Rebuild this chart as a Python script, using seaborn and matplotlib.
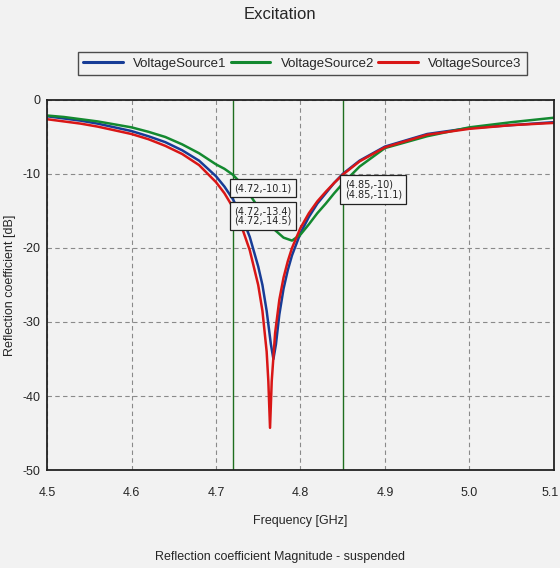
import numpy as np
import pandas as pd
import matplotlib
matplotlib.use("Agg")
import matplotlib.pyplot as plt
import matplotlib.transforms as mtransforms
import seaborn as sns

sns.set_style("whitegrid")
plt.rcParams['font.family'] = ['Liberation Sans', 'DejaVu Sans']
plt.rcParams['axes.unicode_minus'] = False

# frequency [GHz] / reflection coefficient [dB]
f_vs1 = [4.50, 4.52, 4.54, 4.56, 4.58, 4.60, 4.62, 4.64, 4.66, 4.68, 4.70, 4.71,
         4.72, 4.73, 4.74, 4.75, 4.755, 4.76, 4.765, 4.768, 4.771, 4.775, 4.78,
         4.785, 4.79, 4.80, 4.81, 4.82, 4.83, 4.84, 4.85, 4.87, 4.90, 4.95, 5.00,
         5.05, 5.10]
s_vs1 = [-2.2, -2.5, -2.8, -3.2, -3.7, -4.2, -4.9, -5.7, -6.8, -8.2, -10.3, -11.7,
         -13.4, -15.6, -18.5, -22.5, -25.0, -28.5, -33.0, -35.0, -33.0, -29.0, -25.5,
         -23.0, -21.0, -18.0, -15.8, -14.0, -12.6, -11.2, -10.0, -8.2, -6.3, -4.6, -3.8,
         -3.4, -3.0]

f_vs2 = [4.50, 4.52, 4.54, 4.56, 4.58, 4.60, 4.62, 4.64, 4.66, 4.68, 4.70, 4.71,
         4.72, 4.73, 4.74, 4.75, 4.76, 4.77, 4.78, 4.79, 4.80, 4.81, 4.82, 4.83,
         4.84, 4.85, 4.87, 4.90, 4.95, 5.00, 5.05, 5.10]
s_vs2 = [-2.1, -2.3, -2.6, -2.9, -3.3, -3.7, -4.3, -5.0, -6.0, -7.2, -8.7, -9.3,
         -10.1, -11.3, -12.8, -14.5, -16.1, -17.6, -18.6, -19.0, -18.2, -16.8, -15.3, -14.0,
         -12.6, -11.3, -9.0, -6.5, -4.9, -3.7, -3.0, -2.4]

f_vs3 = [4.50, 4.52, 4.54, 4.56, 4.58, 4.60, 4.62, 4.64, 4.66, 4.68, 4.70, 4.71,
         4.72, 4.73, 4.74, 4.75, 4.755, 4.76, 4.762, 4.764, 4.766, 4.77, 4.775, 4.78,
         4.785, 4.79, 4.80, 4.81, 4.82, 4.83, 4.84, 4.85, 4.87, 4.90, 4.95, 5.00,
         5.05, 5.10]
s_vs3 = [-2.6, -2.9, -3.2, -3.6, -4.1, -4.6, -5.3, -6.2, -7.3, -8.8, -11.1, -12.6,
         -14.5, -17.0, -20.3, -25.0, -28.5, -34.0, -38.0, -44.3, -38.0, -31.5, -27.0, -24.0,
         -21.8, -20.0, -17.3, -15.3, -13.7, -12.4, -11.2, -10.1, -8.3, -6.4, -4.7, -3.9,
         -3.4, -3.1]

names = ["VoltageSource1", "VoltageSource2", "VoltageSource3"]
colors = ["#173c96", "#13892f", "#d91616"]

marker_f = [4.72, 4.85]
labels_left = ["(4.72,-10.1)", "(4.72,-13.4)", "(4.72,-14.5)"]
labels_right = ["(4.85,-10)", "(4.85,-11.1)"]

df = pd.concat([
    pd.DataFrame({"freq": f_vs1, "s11": s_vs1, "src": names[0]}),
    pd.DataFrame({"freq": f_vs2, "s11": s_vs2, "src": names[1]}),
    pd.DataFrame({"freq": f_vs3, "s11": s_vs3, "src": names[2]}),
])

bg = "#f2f2f2"
fig = plt.figure(figsize=(5.6, 5.68), dpi=100, facecolor=bg)
ax = fig.add_axes([0.084, 0.1725, 0.905, 0.6515])
ax.set_facecolor(bg)

sns.lineplot(data=df, x="freq", y="s11", hue="src", palette=colors,
             estimator=None, sort=True, linewidth=1.8, ax=ax, legend=False)

for xf in marker_f:
    ax.axvline(xf, color="#1f6e1f", lw=1.0, zorder=1)

ax.set_xlim(4.5, 5.1)
ax.set_ylim(-50, 0)
ax.set_xticks([4.5, 4.6, 4.7, 4.8, 4.9, 5.0, 5.1])
ax.set_xticklabels(["4.5", "4.6", "4.7", "4.8", "4.9", "5.0", "5.1"])
ax.set_yticks([0, -10, -20, -30, -40, -50])
ax.tick_params(labelsize=9, length=0)
ax.tick_params(axis="x", pad=12)
ax.tick_params(axis="y", pad=5)
# pull the last x label back inside the figure
last = ax.get_xticklabels()[-1]
last.set_transform(last.get_transform() +
                   mtransforms.ScaledTranslation(-4 / 100, 0, fig.dpi_scale_trans))
ax.grid(True, color="#8a8a8a", linestyle=(0, (4, 3)), linewidth=0.8)
for sp in ax.spines.values():
    sp.set_color("#222222")
    sp.set_linewidth(1.3)

ax.set_xlabel("Frequency [GHz]", fontsize=9, labelpad=12)
ax.set_ylabel("Reflection coefficient [dB]", fontsize=9)
ax.yaxis.set_label_coords(-0.062, 0.5)

box = dict(boxstyle="square,pad=0.45", facecolor="#f6f6f6", edgecolor="#222222", lw=0.9)
tkw = dict(fontsize=7, family="DejaVu Sans", color="#222222", va="center", ha="left",
           linespacing=0.95)
ax.text(4.722, -11.9, labels_left[0], bbox=box, **tkw)
ax.text(4.722, -15.7, labels_left[1] + "\n" + labels_left[2], bbox=box, **tkw)
ax.text(4.8525, -12.1, labels_right[0] + "\n" + labels_right[1], bbox=box, **tkw)

fig.text(0.5, 0.975, "Excitation", ha="center", va="center", fontsize=12)
fig.text(0.5, 0.019, "Reflection coefficient Magnitude - suspended", ha="center",
         va="center", fontsize=9)

handles = [plt.Line2D([], [], color=c, lw=2.2) for c in colors]
leg = fig.legend(handles, names, loc="center", ncol=3, mode="expand",
                 bbox_to_anchor=(0.139, 0.859, 0.802, 0.058), fontsize=9.5,
                 handlelength=3.0, frameon=True, fancybox=False,
                 borderaxespad=0, columnspacing=1.0)
leg.get_frame().set_edgecolor("#222222")
leg.get_frame().set_facecolor(bg)
leg.get_frame().set_linewidth(1.0)

fig.savefig("out.png", dpi=100, facecolor=bg)
